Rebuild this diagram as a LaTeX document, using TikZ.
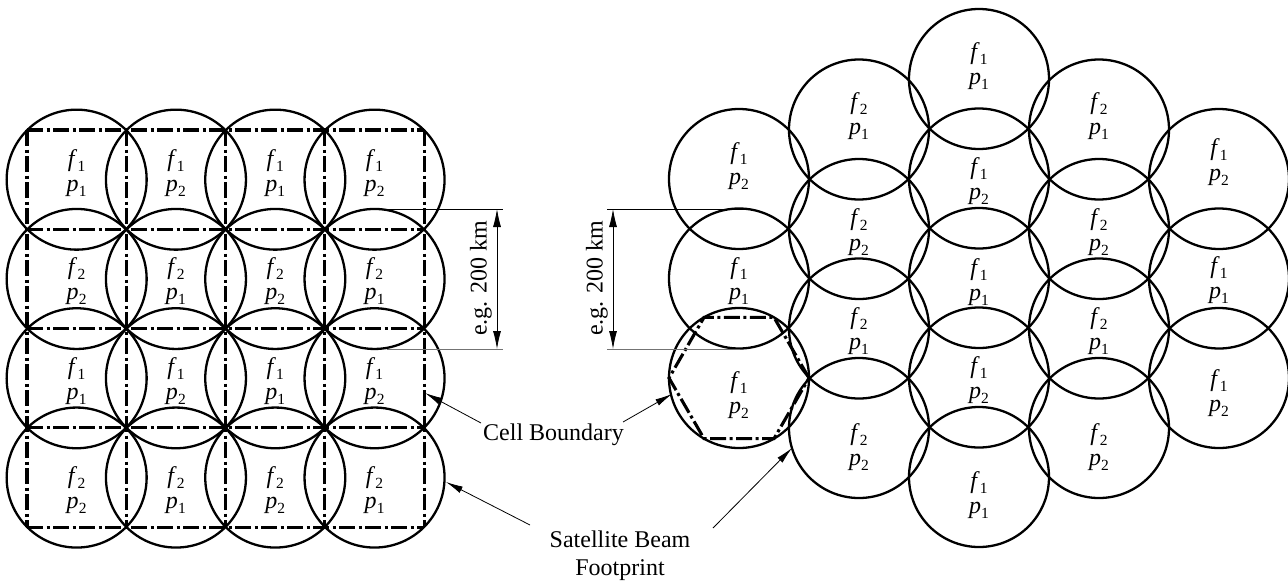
\documentclass[tikz,border=0pt]{standalone}
\usepackage{fontspec}
\setmainfont{Liberation Serif}
\usetikzlibrary{arrows.meta}
\newcommand\fsub[1]{\kern0.2pt\raisebox{-0.22em}{\fontsize{15.5}{15.5}\selectfont #1}}
\newcommand\lbl[2]{\textit{f}\fsub{#1}\\\textit{p}\fsub{#2}}
\begin{document}
\begin{tikzpicture}[x=1pt,y=-1pt,
  beam/.style={circle,draw,line width=2.3pt,minimum size=140pt,inner sep=0pt},
  cellb/.style={line width=3.1pt,dash pattern=on 16pt off 3.5pt on 3pt off 3.5pt},
  lab/.style={align=center,font=\fontsize{24}{25}\selectfont,inner sep=0pt},
  note/.style={align=center,font=\fontsize{24}{28}\selectfont,inner sep=0pt},
  ptr/.style={line width=0.8pt,-{Latex[length=17pt,width=7pt]}},
  dimarr/.style={line width=0.8pt,{Latex[length=18pt,width=8pt]}-{Latex[length=18pt,width=8pt]}},
  ext/.style={line width=0.8pt}]
\useasboundingbox (0,0) rectangle (1288,584);

% ---------- left: square cells ----------
\foreach \i/\j/\a/\b/\ty in {
  1/1/1/1/173, 2/1/1/2/173, 3/1/1/1/173, 4/1/1/2/173,
  1/2/2/2/281, 2/2/2/1/281, 3/2/2/2/281, 4/2/2/1/281,
  1/3/1/1/381, 2/3/1/2/381, 3/3/1/1/381, 4/3/1/2/381,
  1/4/2/2/490, 2/4/2/1/490, 3/4/2/2/490, 4/4/2/1/490}{
  \node[beam] (L\i\j) at ({27+99.3*(\i-0.5)},{130+99.3*(\j-0.5)}) {};
  \node[lab] (tL\i\j) at ({27+99.3*(\i-0.5)},\ty) {\lbl{\a}{\b}};
}
\foreach \k in {0,...,4}{
  \draw[cellb] ({27+99.3*\k},130) -- ({27+99.3*\k},527.2);
  \draw[cellb] (27,{130+99.3*\k}) -- (424.2,{130+99.3*\k});
}

% ---------- right: hexagonal cells ----------
\foreach \n/\x/\y/\a/\b/\ty in {
  a1/739/179/1/2/166, a2/739/278.5/1/1/281, a3/739/378/1/2/395,
  b1/859/129.5/2/1/116, b2/859/229/2/2/232, b3/859/328.5/2/1/331, b4/859/428/2/2/447,
  c1/979/79/1/1/66, c2/979/178.5/1/2/181, c3/979/278/1/1/282, c4/979/377.5/1/2/380, c5/979/477/1/1/495,
  d1/1099/129.5/2/1/116, d2/1099/229/2/2/232, d3/1099/328.5/2/1/331, d4/1099/428/2/2/447,
  e1/1219/179/1/2/162, e2/1219/278.5/1/1/280, e3/1219/378/1/2/393}{
  \node[beam] (R\n) at (\x,\y) {};
  \node[lab] (tR\n) at (\x,\ty) {\lbl{\a}{\b}};
}
\draw[cellb] (809,378) -- (774,317.4) -- (704,317.4) -- (669,378) -- (704,438.6) -- (774,438.6) -- cycle;

% ---------- dimensions ----------
\coordinate (dL1) at (497,209);
\coordinate (dL2) at (497,349);
\coordinate (eL1) at (370,209);
\coordinate (eL1e) at (503,209);
\coordinate (eL2) at (387,349);
\coordinate (eL2e) at (503,349);
\draw[ext] (eL1) -- (eL1e);
\draw[ext,black!55] (eL2) -- (eL2e);
\draw[dimarr] (dL1) -- (dL2);
\node[note,rotate=90] (dLt) at (481,278) {e.g. 200 km};

\coordinate (dR1) at (613,209);
\coordinate (dR2) at (613,349);
\coordinate (eR1) at (607,209);
\coordinate (eR1e) at (747,209);
\coordinate (eR2) at (607,349);
\coordinate (eR2e) at (740,349);
\draw[ext] (eR1) -- (eR1e);
\draw[ext,black!55] (eR2) -- (eR2e);
\draw[dimarr] (dR1) -- (dR2);
\node[note,rotate=90] (dRt) at (597,278) {e.g. 200 km};

% ---------- annotations ----------
\node[note,anchor=west] (cb) at (483,435) {Cell Boundary};
\coordinate (cbLt) at (481,423);
\coordinate (cbLh) at (425,393);
\coordinate (cbRt) at (623,422);
\coordinate (cbRh) at (672,394);
\draw[ptr] (cbLt) -- (cbLh);
\draw[ptr] (cbRt) -- (cbRh);

\node[note] (sb) at (620,556) {Satellite Beam\\Footprint};
\coordinate (sbLt) at (530,525);
\coordinate (sbLh) at (446,482);
\coordinate (sbRt) at (713,528);
\coordinate (sbRh) at (792,448);
\draw[ptr] (sbLt) -- (sbLh);
\draw[ptr] (sbRt) -- (sbRh);
\end{tikzpicture}
\end{document}
